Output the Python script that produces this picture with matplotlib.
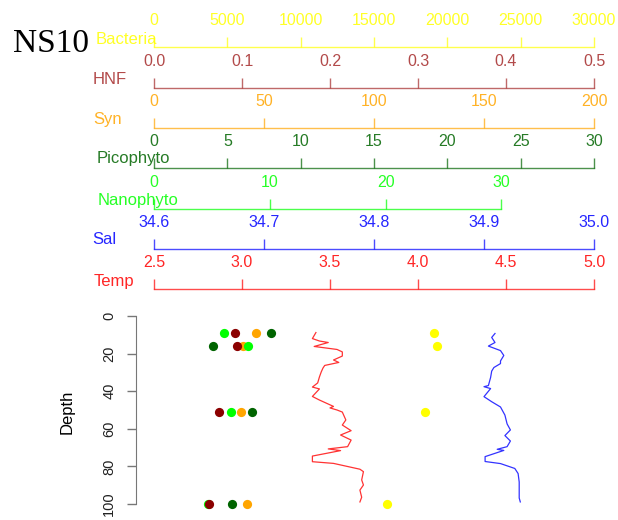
import matplotlib
matplotlib.use("Agg")
import matplotlib.pyplot as plt

# =========================
# data
# =========================

sample_depth = [9, 16, 51, 100]

bacteria = [19100, 19300, 18500, 15900]
hnf = [0.092, 0.094, 0.074, 0.063]
syn = [46.4, 40.3, 39.4, 42.1]
picophyto = [8.0, 4.0, 6.7, 5.3]
nanophyto = [6.05, 8.1, 6.66, 4.64]

# CTD profiles
temp_depth = [8.8, 12.0, 13.3, 14.1, 16.2, 17.3, 17.8, 19.1, 21.3, 23.4, 24.7,
              26.3, 27.7, 29.8, 32.4, 35.6, 37.8, 38.8, 42.8, 44.7, 48.1, 48.9,
              50.0, 51.1, 55.3, 58.0, 61.0, 63.3, 66.0, 69.5, 70.7, 71.6, 74.5,
              77.5, 78.4, 81.5, 82.8, 87.2, 89.9, 92.6, 96.4, 98.9]
temp = [3.42, 3.40, 3.44, 3.49, 3.41, 3.50, 3.54, 3.57, 3.57, 3.52, 3.55,
        3.47, 3.46, 3.45, 3.44, 3.43, 3.40, 3.44, 3.40, 3.44, 3.52, 3.50,
        3.54, 3.57, 3.59, 3.57, 3.62, 3.56, 3.62, 3.60, 3.49, 3.56, 3.40,
        3.40, 3.52, 3.67, 3.69, 3.68, 3.69, 3.67, 3.68, 3.67]

sal_depth = [9.3, 11.4, 14.1, 16.0, 18.4, 21.0, 23.9, 25.3, 27.4, 29.3, 32.7,
             37.0, 37.6, 38.6, 42.9, 45.6, 48.4, 52.7, 57.4, 60.6, 63.6, 66.5,
             69.5, 70.9, 71.5, 74.8, 77.4, 78.5, 81.1, 83.8, 88.3, 93.1, 96.8,
             98.9]
sal = [34.910, 34.907, 34.910, 34.904, 34.915, 34.918, 34.915, 34.915, 34.909,
       34.907, 34.906, 34.904, 34.900, 34.906, 34.900, 34.907, 34.915, 34.919,
       34.921, 34.924, 34.919, 34.924, 34.921, 34.912, 34.918, 34.901, 34.901,
       34.915, 34.928, 34.931, 34.932, 34.932, 34.932, 34.933]

# scale ranges and ticks
bact_range = (0, 30000)
bact_ticks = [0, 5000, 10000, 15000, 20000, 25000, 30000]
hnf_range = (0, 0.5)
hnf_ticks = [0.0, 0.1, 0.2, 0.3, 0.4, 0.5]
hnf_labels = ["0.0", "0.1", "0.2", "0.3", "0.4", "0.5"]
syn_range = (0, 200)
syn_ticks = [0, 50, 100, 150, 200]
pico_range = (0, 30)
pico_ticks = [0, 5, 10, 15, 20, 25, 30]
nano_range = (0, 38)
nano_ticks = [0, 10, 20, 30]
sal_range = (34.6, 35.0)
sal_ticks = [34.6, 34.7, 34.8, 34.9, 35.0]
sal_labels = ["34.6", "34.7", "34.8", "34.9", "35.0"]
temp_range = (2.5, 5.0)
temp_ticks = [2.5, 3.0, 3.5, 4.0, 4.5, 5.0]
temp_labels = ["2.5", "3.0", "3.5", "4.0", "4.5", "5.0"]
depth_ticks = [0, 20, 40, 60, 80, 100]

# colours (R named colours)
c_bact = "#FFFF00"
c_hnf = "#A52A2A"
c_hnf_pt = "#8B0000"
c_syn = "#FFA500"
c_pico = "#006400"
c_nano = "#00FF00"
c_sal = "#0000FF"
c_temp = "#FF0000"

# =========================
# figure layout (pixels)
# =========================
W, H = 618, 520
plt.rcParams["font.family"] = "Liberation Sans"

fig = plt.figure(figsize=(W / 100, H / 100), dpi=100)

L = 154 / W
WD = 440 / W


def scale_bar(y_px, lim, ticks, labels, colour, name, name_x, name_base):
    a = fig.add_axes([L, 1 - y_px / H, WD, 0.0001])
    a.set_xlim(*lim)
    a.set_ylim(0, 1)
    a.patch.set_visible(False)
    for s in ["left", "right", "bottom"]:
        a.spines[s].set_visible(False)
    a.spines["top"].set_color(colour)
    a.spines["top"].set_alpha(0.7)
    a.spines["top"].set_linewidth(1.0)
    a.spines["top"].set_bounds(ticks[0], ticks[-1])
    a.set_yticks([])
    a.set_xticks(ticks)
    a.set_xticklabels(labels if labels is not None else [str(t) for t in ticks])
    a.tick_params(axis="x", top=True, bottom=False, labeltop=True,
                  labelbottom=False, direction="out", length=7.2, width=1.0,
                  color=matplotlib.colors.to_rgba(colour, 0.7),
                  labelcolor=colour, labelsize=11.5, pad=6.5)
    for lbl in a.get_xticklabels():
        lbl.set_alpha(0.85)
    fig.text(name_x / W, 1 - name_base / H, name, color=colour, alpha=0.85,
             fontsize=12, va="baseline", ha="left")
    return a


scale_bar(46.7, bact_range, bact_ticks, None, c_bact, "Bacteria", 96, 43.5)
scale_bar(87.7, hnf_range, hnf_ticks, hnf_labels, c_hnf, "HNF", 93, 84)
scale_bar(127.7, syn_range, syn_ticks, None, c_syn, "Syn", 93, 124)
scale_bar(167.7, pico_range, pico_ticks, None, c_pico, "Picophyto", 97, 163.5)
scale_bar(209, nano_range, nano_ticks, None, c_nano, "Nanophyto", 98, 205)
scale_bar(249, sal_range, sal_ticks, sal_labels, c_sal, "Sal", 92, 244)
scale_bar(289, temp_range, temp_ticks, temp_labels, c_temp, "Temp", 94, 286)

# station label
fig.text(13 / W, 1 - 52 / H, "NS10", family="Liberation Serif",
         fontsize=24, ha="left", va="baseline")

# =========================
# depth panel
# =========================
top_px = 316 - 4 * 1.88
bot_px = 504 + 4 * 1.88
ax = fig.add_axes([L, 1 - bot_px / H, WD, (bot_px - top_px) / H])
ax.set_ylim(104, -4)
ax.set_xlim(0, 1)
ax.patch.set_visible(False)
for s in ["top", "right", "bottom"]:
    ax.spines[s].set_visible(False)
ax.spines["left"].set_position(("outward", 12.7))
ax.spines["left"].set_bounds(0, 100)
ax.spines["left"].set_color("#777777")
ax.set_xticks([])
ax.set_yticks(depth_ticks)
ax.tick_params(axis="y", length=6.5, width=1.0, color="#777777",
               labelsize=10.5, labelrotation=90, pad=8, labelcolor="#222222")
for lbl in ax.get_yticklabels():
    lbl.set_va("center")
ax.set_ylabel("Depth", fontsize=12)
ax.yaxis.label.set_va("center")
ax.yaxis.set_label_coords((67 - 154) / 440, 0.49)


def data_axis(lim):
    t = ax.twiny()
    t.set_xlim(*lim)
    t.axis("off")
    return t


dot = 44
data_axis(temp_range).plot(temp, temp_depth, color=c_temp, lw=0.9, alpha=0.8)
data_axis(sal_range).plot(sal, sal_depth, color=c_sal, lw=0.9, alpha=0.8)
data_axis(bact_range).scatter(bacteria, sample_depth, s=dot, color=c_bact,
                              linewidths=0, clip_on=False)
data_axis(syn_range).scatter(syn, sample_depth, s=dot, color=c_syn,
                             linewidths=0, clip_on=False)
data_axis(nano_range).scatter(nanophyto, sample_depth, s=dot, color=c_nano,
                              linewidths=0, clip_on=False)
data_axis(hnf_range).scatter(hnf, sample_depth, s=dot, color=c_hnf_pt,
                             linewidths=0, clip_on=False)
data_axis(pico_range).scatter(picophyto, sample_depth, s=dot, color=c_pico,
                              linewidths=0, clip_on=False)

fig.savefig("out.png", dpi=100)
